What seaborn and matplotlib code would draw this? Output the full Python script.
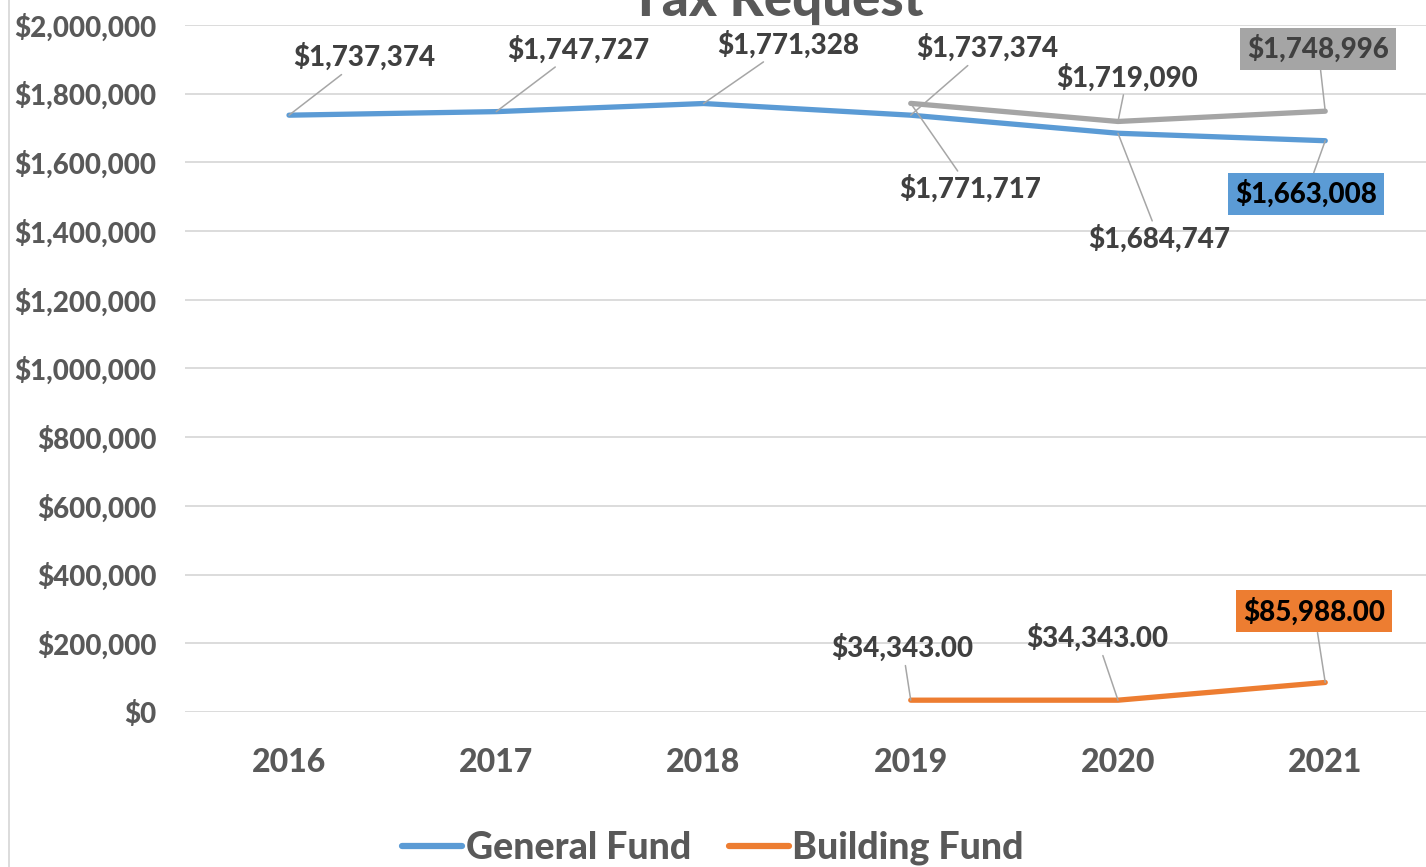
import pandas as pd
import matplotlib
matplotlib.use("Agg")
import matplotlib.pyplot as plt
import matplotlib.ticker as ticker
from matplotlib.lines import Line2D
import seaborn as sns

years = ['2016', '2017', '2018', '2019', '2020', '2021']
general_fund = [1737374, 1747727, 1771328, 1737374, 1684747, 1663008]
prior_years = ['2019', '2020', '2021']
prior_request = [1771717, 1719090, 1748996]
building_years = ['2019', '2020', '2021']
building_fund = [34343, 34343, 85988]

BLUE = '#5B9BD5'
ORANGE = '#ED7D31'
GRAY = '#A5A5A5'
TXT = '#595959'
LBL = '#404040'
W = 900

sns.set_theme(style='white')
plt.rcParams['font.family'] = ['Lato', 'DejaVu Sans']

df = pd.concat([
    pd.DataFrame({'year': years, 'value': general_fund, 'series': 'General Fund'}),
    pd.DataFrame({'year': building_years, 'value': building_fund, 'series': 'Building Fund'}),
    pd.DataFrame({'year': prior_years, 'value': prior_request, 'series': 'Prior'}),
])

fig = plt.figure(figsize=(14.26, 8.67), dpi=100)
ax = fig.add_axes([0.130, 0.1788, 0.872, 0.7924])

sns.lineplot(data=df, x='year', y='value', hue='series', sort=False,
             palette={'General Fund': BLUE, 'Building Fund': ORANGE, 'Prior': GRAY},
             linewidth=3.8, legend=False, ax=ax, solid_capstyle='round')

ax.set_xlim(-0.5, 5.5)
ax.set_ylim(0, 2000000)
ax.yaxis.set_major_locator(ticker.MultipleLocator(200000))
ax.yaxis.set_major_formatter(ticker.FuncFormatter(lambda v, p: '${:,.0f}'.format(v)))
ax.grid(axis='y', color='#D9D9D9', linewidth=1.3)
ax.grid(axis='x', visible=False)
for s in ax.spines.values():
    s.set_visible(False)
ax.set_xlabel('')
ax.set_ylabel('')
ax.tick_params(axis='y', labelsize=20, labelcolor=TXT, length=0, pad=21)
ax.tick_params(axis='x', labelsize=23, labelcolor=TXT, length=0, pad=26)
for t in ax.get_yticklabels() + ax.get_xticklabels():
    t.set_fontweight(W)

# label offsets in pixels (dx, dy) relative to each point
gen_off = [(75, 58), (82, 62), (85, 59), (77, 67), (41, -105), (-19, -53)]
prior_off = [(59, -85), (9, 44), (-7, 62)]
bld_off = [(-8, 52), (-21, 62), (-11, 71)]
leader = dict(arrowstyle='-', color='#A6A6A6', lw=1.1, shrinkA=0, shrinkB=0)

def label(x, y, text, off, box=None, color=LBL):
    kw = {}
    if box is not None:
        kw['bbox'] = dict(boxstyle='square,pad=0.25', fc=box, ec='none')
    ax.annotate(text, xy=(x, y), xytext=off, textcoords='offset pixels',
                ha='center', va='center', fontsize=20, fontweight=W,
                color=color, arrowprops=leader, annotation_clip=False, **kw)

for i, (yr, v) in enumerate(zip(years, general_fund)):
    last = i == len(years) - 1
    label(years.index(yr), v, '${:,.0f}'.format(v), gen_off[i],
          box=BLUE if last else None, color='black' if last else LBL)
for i, (yr, v) in enumerate(zip(prior_years, prior_request)):
    last = i == len(prior_years) - 1
    label(years.index(yr), v, '${:,.0f}'.format(v), prior_off[i],
          box=GRAY if last else None)
for i, (yr, v) in enumerate(zip(building_years, building_fund)):
    last = i == len(building_years) - 1
    label(years.index(yr), v, '${:,.2f}'.format(v), bld_off[i],
          box=ORANGE if last else None, color='black' if last else LBL)

fig.text(0.545, 0.982, 'Tax Request', ha='center', va='baseline',
         fontsize=38, fontweight=W, color=TXT)

handles = [Line2D([], [], color=BLUE, lw=4.5, solid_capstyle='round'),
           Line2D([], [], color=ORANGE, lw=4.5, solid_capstyle='round')]
leg = fig.legend(handles, ['General Fund', 'Building Fund'], loc='center',
                 bbox_to_anchor=(0.5, 0.022), ncol=2, frameon=False,
                 handlelength=1.6, handletextpad=0.1, columnspacing=1.0,
                 prop={'size': 27, 'weight': W})
for t in leg.get_texts():
    t.set_color(TXT)

fig.add_artist(Line2D([0.006, 0.006], [0, 1], transform=fig.transFigure,
                      color='#D9D9D9', lw=1.3))

fig.savefig('out.png', dpi=100)
